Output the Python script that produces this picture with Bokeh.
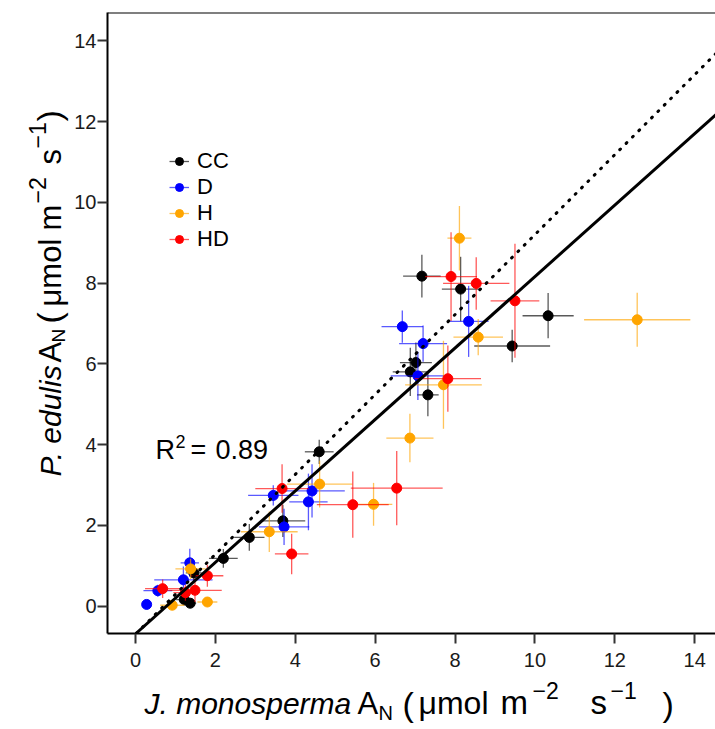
from bokeh.plotting import figure
from bokeh.models import (ColumnDataSource, Range1d, FixedTicker, Label, Legend,
                          LegendItem, Slope, Span)
from bokeh.layouts import row, column
from bokeh.embed import file_html
from bokeh.resources import INLINE

# ---------------- data ----------------
groups = ["CC", "D", "H", "HD"]
colors = ["#000000", "#0000FF", "#FFA500", "#FF0000"]

cc_x  = [7.17, 8.14, 10.33, 9.43, 7.02, 6.88, 7.32, 4.60, 3.69, 2.85, 2.20, 1.46, 1.22, 1.37]
cc_y  = [8.17, 7.85, 7.19, 6.44, 6.03, 5.80, 5.23, 3.82, 2.11, 1.70, 1.18, 0.82, 0.16, 0.07]
cc_xe = [0.47, 0.47, 0.64, 0.95, 0.40, 0.44, 0.27, 0.36, 0.56, 0.38, 0.36, 0.20, 0.20, 0.15]
cc_ye = [0.53, 0.80, 0.56, 0.40, 0.50, 0.60, 0.53, 0.30, 0.40, 0.33, 0.23, 0.20, 0.15, 0.12]

d_x  = [6.68, 8.34, 7.20, 7.07, 3.45, 4.42, 4.33, 3.72, 1.36, 1.20, 0.56, 0.28]
d_y  = [6.92, 7.05, 6.50, 5.70, 2.74, 2.85, 2.58, 1.96, 1.07, 0.65, 0.38, 0.04]
d_xe = [0.52, 0.50, 0.60, 0.68, 0.63, 0.82, 0.48, 0.63, 0.23, 0.73, 0.36, 0.10]
d_ye = [0.40, 0.88, 0.45, 0.60, 0.25, 0.66, 0.70, 0.45, 0.35, 0.33, 0.15, 0.05]

h_x  = [8.11, 12.56, 8.58, 7.71, 6.87, 4.61, 5.96, 3.35, 1.38, 1.80, 0.92]
h_y  = [9.11, 7.09, 6.66, 5.48, 4.16, 3.02, 2.52, 1.84, 0.92, 0.10, 0.02]
h_xe = [0.30, 1.33, 0.62, 0.96, 0.59, 0.82, 0.47, 0.71, 0.38, 0.25, 0.30]
h_ye = [0.80, 0.67, 0.45, 1.09, 0.60, 0.58, 0.53, 0.50, 0.25, 0.10, 0.08]

hd_x  = [7.90, 8.53, 9.50, 7.82, 6.54, 5.44, 3.67, 3.91, 1.80, 0.68, 1.49, 1.25]
hd_y  = [8.16, 7.99, 7.56, 5.63, 2.92, 2.51, 2.91, 1.29, 0.75, 0.43, 0.39, 0.33]
hd_xe = [0.65, 0.83, 0.61, 0.83, 1.15, 0.90, 0.67, 0.42, 0.40, 0.44, 0.67, 0.30]
hd_ye = [1.10, 0.65, 1.41, 0.82, 0.92, 0.82, 0.60, 0.50, 0.27, 0.23, 0.29, 0.20]

ticks = [0, 2, 4, 6, 8, 10, 12, 14]
fit_slope, fit_intercept = 0.885, -0.69      # solid regression line
dot_slope, dot_intercept = 0.99, -0.70       # dotted line
r2_text = "0.89"

series = [(cc_x, cc_y, cc_xe, cc_ye), (d_x, d_y, d_xe, d_ye),
          (h_x, h_y, h_xe, h_ye), (hd_x, hd_y, hd_xe, hd_ye)]

# ---------------- page geometry (pixels) ----------------
FONT = "Liberation Sans"
PAGE_W = 715
YT_W = 70                  # width of the y-title strip
P_W, P_H = PAGE_W - YT_W, 675
XT_H = 52                  # height of the x-title strip
FL, FT, FB = 107, 12, 633  # frame left / top / bottom on the page
SHIFT = 0.36               # alphabetic-baseline correction (fraction of font size)

X0, X1 = -0.70, 14.52
Y0, Y1 = -0.68, 14.70

p = figure(width=P_W, height=P_H, output_backend="svg", toolbar_location=None,
           x_range=Range1d(X0, X1), y_range=Range1d(Y0, Y1),
           min_border_left=FL - YT_W, min_border_right=0, min_border_top=FT,
           min_border_bottom=P_H - FB)
p.grid.visible = False
p.outline_line_color = None
p.background_fill_color = "white"

for ax in (p.xaxis[0], p.yaxis[0]):
    ax.ticker = FixedTicker(ticks=ticks)
    ax.axis_line_width = 2
    ax.axis_line_color = "black"
    ax.major_tick_line_width = 2
    ax.major_tick_line_color = "#333333"
    ax.major_tick_out = 10
    ax.major_tick_in = 0
    ax.minor_tick_line_color = None
    ax.major_label_text_font = FONT
    ax.major_label_text_font_size = "20px"
    ax.major_label_text_color = "#1a1a1a"
p.xaxis[0].major_label_standoff = 9
p.yaxis[0].major_label_standoff = 1

# top edge of the box
p.add_layout(Span(location=Y1, dimension="width", line_color="black", line_width=2))

# lines
p.add_layout(Slope(gradient=dot_slope, y_intercept=dot_intercept, line_color="black",
                   line_width=3, line_dash="1 8", line_cap="round"))
p.add_layout(Slope(gradient=fit_slope, y_intercept=fit_intercept, line_color="black",
                   line_width=3))

items = []
for name, col, (xs, ys, xe, ye) in zip(groups, colors, series):
    src = ColumnDataSource(dict(
        x=xs, y=ys,
        x0=[a - e for a, e in zip(xs, xe)], x1=[a + e for a, e in zip(xs, xe)],
        y0=[a - e for a, e in zip(ys, ye)], y1=[a + e for a, e in zip(ys, ye)]))
    hseg = p.segment(x0="x0", y0="y", x1="x1", y1="y", source=src,
                     line_color=col, line_alpha=0.65, line_width=1.3)
    p.segment(x0="x", y0="y0", x1="x", y1="y1", source=src,
              line_color=col, line_alpha=0.65, line_width=1.3)
    pts = p.scatter("x", "y", source=src, size=10, fill_color=col, line_color=col)
    items.append(LegendItem(label=name, renderers=[hseg, pts]))

legend = Legend(items=items, location=(62, 381), border_line_color=None,
                background_fill_alpha=0, padding=0, margin=0, spacing=0,
                glyph_width=20, glyph_height=24, label_height=24, label_standoff=8,
                label_text_font=FONT, label_text_font_size="22px",
                label_text_color="black")
p.add_layout(legend)


def label(fig, s, x, y, size, style="normal", angle=0, x_offset=0, y_offset=0):
    fig.add_layout(Label(x=x, y=y, x_offset=x_offset, y_offset=y_offset, text=s,
                         text_font=FONT, text_font_size=f"{size}px",
                         text_font_style=style, text_color="black",
                         text_baseline="alphabetic", text_align="left",
                         angle=angle, angle_units="deg"))


# R^2 annotation (pixel offsets from the frame's bottom-left corner);
# py is the wanted baseline on the page
def rlab(s, px, py, size):
    label(p, s, X0, Y0, size, x_offset=px - FL,
          y_offset=FB - (py - SHIFT * size))


rlab("R", 155, 459, 27)
rlab("2", 175, 447, 18)
rlab("=", 190, 459, 27)
rlab(r2_text, 215, 459, 27)


def strip(w, h, xr, yr, **borders):
    f = figure(width=w, height=h, output_backend="svg", toolbar_location=None,
               x_range=Range1d(*xr), y_range=Range1d(*yr),
               x_axis_type=None, y_axis_type=None, **borders)
    f.grid.visible = False
    f.outline_line_color = None
    f.background_fill_color = "white"
    f.border_fill_color = "white"
    return f


# ---------------- y-axis title strip (left of the plot) ----------------
# frame aligned with the plot's frame; data x = page x, data y = P_H - page y
yt = strip(YT_W, P_H, (0, YT_W), (P_H - FB, P_H - FT),
           min_border_left=0, min_border_right=0,
           min_border_top=FT, min_border_bottom=P_H - FB)


def yl(s, bx, py, size, style="normal"):
    # bx: wanted baseline x on the page (text reads bottom-to-top)
    label(yt, s, bx - SHIFT * size, P_H - py, size, style, angle=90)


yb = 61
yl("P. edulis", yb, 476, 30, "italic")
yl("A", yb, 362, 31)
yl("N", yb + 4, 342, 19)
yl("(", yb, 323, 34)
yl("μmol", yb, 306, 31)
yl("m", yb, 230, 31)
yl("−2", yb - 16, 203, 23)
yl("s", yb, 164, 31)
yl("−1", yb - 16, 148, 23)
yl(")", yb, 121, 34)

# ---------------- x-axis title strip (below the plot) ----------------
# frame spans page x FL..PAGE_W; data x = page x, data y = bottom-up pixels
xt = strip(PAGE_W, XT_H, (FL, PAGE_W), (0, XT_H),
           min_border_left=FL, min_border_right=0,
           min_border_top=0, min_border_bottom=0)
XT_TOP = P_H


def xl(s, px, by, size, style="normal"):
    # by: wanted baseline y on the page
    label(xt, s, px, XT_TOP + XT_H - (by - SHIFT * size), size, style)


xb = 714
xl("J. monosperma", 144, xb, 30, "italic")
xl("A", 357, xb, 31)
xl("N", 378, xb + 6, 20)
xl("(", 402, xb + 2, 34)
xl("μmol", 418, xb, 32)
xl("m", 500, xb, 33)
xl("−2", 532, xb - 16, 23)
xl("s", 590, xb, 33)
xl("−1", 610, xb - 16, 23)
xl(")", 662, xb + 2, 34)

layout = column(row(yt, p), xt)
open("out.html", "w").write(file_html(layout, INLINE))
